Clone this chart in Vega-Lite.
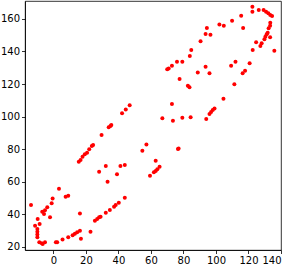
{
  "$schema": "https://vega.github.io/schema/vega-lite/v6.json",
  "width": 256,
  "height": 249,
  "autosize": {"type": "none"},
  "padding": {"left": 25, "top": 1, "right": 9, "bottom": 17},
  "background": "white",
  "config": {
    "view": {"stroke": "black", "strokeWidth": 0.8},
    "axis": {
      "grid": false,
      "domainColor": "black",
      "domainWidth": 0.8,
      "tickColor": "black",
      "tickWidth": 0.8,
      "tickSize": 3.5,
      "labelFont": "DejaVu Sans",
      "labelFontSize": 10,
      "labelColor": "black",
      "labelPadding": 2,
      "title": null
    }
  },
  "data": {
    "values": [
      {"x": -13.8, "y": 45.6}, {"x": -11.3, "y": 32.9}, {"x": -9.7, "y": 37}, {"x": -9.9, "y": 30.9},
      {"x": -9.9, "y": 29.2}, {"x": -9.9, "y": 27.6}, {"x": -9.9, "y": 25.8}, {"x": -8.5, "y": 34},
      {"x": -8.7, "y": 22.7}, {"x": -7.2, "y": 22.1}, {"x": -6.6, "y": 21.7}, {"x": -5.2, "y": 22.7},
      {"x": -6.9, "y": 41.5}, {"x": -5.8, "y": 40.1}, {"x": -5.2, "y": 42.5}, {"x": -3.8, "y": 44.2},
      {"x": -2.1, "y": 38.1}, {"x": -1.1, "y": 46.7}, {"x": -0.5, "y": 49.7}, {"x": 1.5, "y": 22.7},
      {"x": 2.3, "y": 22.7}, {"x": 3.4, "y": 55.6}, {"x": 5.6, "y": 24.5}, {"x": 7.5, "y": 50.7},
      {"x": 9.1, "y": 51.3}, {"x": 9.1, "y": 25.8}, {"x": 11.8, "y": 27}, {"x": 13.2, "y": 28},
      {"x": 14.6, "y": 28.9}, {"x": 16.3, "y": 29.8}, {"x": 16.3, "y": 40.5}, {"x": 16.9, "y": 24.9},
      {"x": 15.6, "y": 72.2}, {"x": 16.7, "y": 73.3}, {"x": 17.9, "y": 75.3}, {"x": 19.3, "y": 76.8},
      {"x": 20.7, "y": 77.8}, {"x": 22, "y": 79.9}, {"x": 23.6, "y": 81.9}, {"x": 24.4, "y": 82.5},
      {"x": 29.6, "y": 88.6}, {"x": 34, "y": 93.4}, {"x": 35.1, "y": 94.2}, {"x": 35.6, "y": 94.8},
      {"x": 42.2, "y": 102}, {"x": 44.5, "y": 104.4}, {"x": 46.9, "y": 106.9},
      {"x": 22.8, "y": 29.2}, {"x": 25.5, "y": 36}, {"x": 26.9, "y": 37}, {"x": 28.1, "y": 38.1},
      {"x": 29, "y": 38.4}, {"x": 32.2, "y": 40.9}, {"x": 34.7, "y": 42.6}, {"x": 37.3, "y": 44.6},
      {"x": 38.3, "y": 45.6}, {"x": 40.2, "y": 47}, {"x": 43.9, "y": 50.1},
      {"x": 28.1, "y": 66.1}, {"x": 32.2, "y": 69.6}, {"x": 33.3, "y": 60}, {"x": 39.1, "y": 64.5},
      {"x": 41.2, "y": 69.6}, {"x": 43.9, "y": 70.2}, {"x": 54.7, "y": 79}, {"x": 57.2, "y": 82.9},
      {"x": 76.6, "y": 80}, {"x": 77, "y": 80.3}, {"x": 62.9, "y": 72.9}, {"x": 65.3, "y": 69.2},
      {"x": 63.9, "y": 67.6}, {"x": 62.9, "y": 66.5}, {"x": 61.8, "y": 65.7}, {"x": 59.4, "y": 63.6},
      {"x": 67, "y": 98.9}, {"x": 73.5, "y": 97.4}, {"x": 72.9, "y": 107.7}, {"x": 79.3, "y": 99.3},
      {"x": 84.4, "y": 99.5}, {"x": 94, "y": 98.5}, {"x": 96, "y": 101.6}, {"x": 97, "y": 102.8},
      {"x": 98, "y": 104}, {"x": 99.1, "y": 105}, {"x": 104.6, "y": 110.9}, {"x": 77.6, "y": 123.1},
      {"x": 82.7, "y": 119}, {"x": 83.7, "y": 118}, {"x": 88.8, "y": 127}, {"x": 93.6, "y": 130.6},
      {"x": 96, "y": 126.6}, {"x": 111.3, "y": 119.8}, {"x": 116.4, "y": 126.6}, {"x": 117.9, "y": 128.2},
      {"x": 120.7, "y": 132.7}, {"x": 109.3, "y": 131.2}, {"x": 112, "y": 133.7}, {"x": 70, "y": 129},
      {"x": 70.9, "y": 129.6}, {"x": 72.9, "y": 131.2}, {"x": 76, "y": 133.7}, {"x": 79.3, "y": 133.7},
      {"x": 83.9, "y": 137.2}, {"x": 84.8, "y": 140.9}, {"x": 90.5, "y": 146.2}, {"x": 93.6, "y": 150.7},
      {"x": 96.6, "y": 150.3}, {"x": 94.4, "y": 154.4}, {"x": 102.1, "y": 156.5}, {"x": 104.8, "y": 155.8},
      {"x": 109.9, "y": 158.9}, {"x": 115.5, "y": 161.9}, {"x": 116.7, "y": 154.4}, {"x": 122.4, "y": 167.5},
      {"x": 122.4, "y": 164.4}, {"x": 126.3, "y": 165.5}, {"x": 129.3, "y": 165.5}, {"x": 130.8, "y": 164.4},
      {"x": 132.2, "y": 163.4}, {"x": 133.4, "y": 162.4}, {"x": 134.5, "y": 161.8}, {"x": 133.4, "y": 157.7},
      {"x": 133.3, "y": 155.8}, {"x": 132.4, "y": 154.2}, {"x": 131.8, "y": 151.5}, {"x": 131.2, "y": 150.5},
      {"x": 130.4, "y": 149.1}, {"x": 129.8, "y": 147.5}, {"x": 133.3, "y": 148.7}, {"x": 124.7, "y": 145.6},
      {"x": 128.1, "y": 145}, {"x": 127.3, "y": 143.3}, {"x": 122.6, "y": 140.9}, {"x": 135.9, "y": 140.5}
    ]
  },
  "mark": {"type": "circle", "color": "#ff0000", "opacity": 1, "size": 16},
  "encoding": {
    "x": {
      "field": "x", "type": "quantitative",
      "scale": {"domain": [-17.5, 140], "nice": false, "zero": false},
      "axis": {"values": [0, 20, 40, 60, 80, 100, 120, 140]}
    },
    "y": {
      "field": "y", "type": "quantitative",
      "scale": {"domain": [18, 171], "nice": false, "zero": false},
      "axis": {"values": [20, 40, 60, 80, 100, 120, 140, 160]}
    }
  }
}
